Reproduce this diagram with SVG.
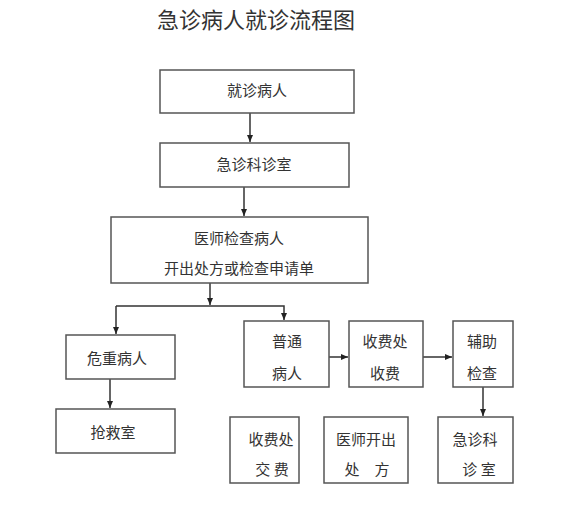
<svg xmlns="http://www.w3.org/2000/svg" width="573" height="514" viewBox="0 0 573 514">
<style>
.box{fill:#fff;stroke:#555;stroke-width:1.5}
.t{font-family:"Noto Sans CJK SC","Noto Sans",sans-serif;font-size:15px;fill:#333;text-anchor:middle;dominant-baseline:central}
.title{font-family:"Noto Sans CJK SC","Noto Sans",sans-serif;font-size:22px;fill:#333;text-anchor:middle;dominant-baseline:central}
.ln{fill:none;stroke:#333;stroke-width:1.5}
</style>
<defs>
<marker id="ah" markerWidth="8" markerHeight="8" refX="7" refY="4" orient="auto" markerUnits="userSpaceOnUse">
<path d="M0,1 L7,4 L0,7 Z" fill="#222"/>
</marker>
</defs>
<rect width="573" height="514" fill="#fff"/>
<text class="title" x="256" y="18">急诊病人就诊流程图</text>
<g id="connectors">
<line class="ln" x1="250" y1="113" x2="250" y2="142" marker-end="url(#ah)"/>
<line class="ln" x1="244" y1="187" x2="244" y2="216" marker-end="url(#ah)"/>
<line class="ln" x1="210" y1="283" x2="210" y2="305" marker-end="url(#ah)"/>
<polyline class="ln" points="116,306 284,306 284,320" marker-end="url(#ah)"/>
<line class="ln" x1="116" y1="306" x2="116" y2="334" marker-end="url(#ah)"/>
<line class="ln" x1="110" y1="379" x2="110" y2="408" marker-end="url(#ah)"/>
<line class="ln" x1="329" y1="357" x2="348" y2="357" marker-end="url(#ah)"/>
<line class="ln" x1="423" y1="357" x2="452" y2="357" marker-end="url(#ah)"/>
<line class="ln" x1="483" y1="387" x2="483" y2="416" marker-end="url(#ah)"/>
</g>
<g id="n1"><rect class="box" x="160" y="70" width="194" height="43"/><text class="t" x="257" y="89">就诊病人</text></g>
<g id="n2"><rect class="box" x="160" y="143" width="189" height="44"/><text class="t" x="254" y="163">急诊科诊室</text></g>
<g id="n3"><rect class="box" x="111" y="217" width="257" height="66"/><text class="t" x="239" y="237">医师检查病人</text><text class="t" x="239" y="267">开出处方或检查申请单</text></g>
<g id="n4"><rect class="box" x="66" y="335" width="109" height="44"/><text class="t" x="117" y="357">危重病人</text></g>
<g id="n5"><rect class="box" x="56" y="409" width="119" height="44"/><text class="t" x="113" y="431">抢救室</text></g>
<g id="n6"><rect class="box" x="244" y="321" width="85" height="66"/><text class="t" x="287" y="340">普通</text><text class="t" x="287" y="372">病人</text></g>
<g id="n7"><rect class="box" x="349" y="321" width="74" height="66"/><text class="t" x="385" y="340">收费处</text><text class="t" x="385" y="372">收费</text></g>
<g id="n8"><rect class="box" x="453" y="321" width="60" height="66"/><text class="t" x="482" y="340">辅助</text><text class="t" x="482" y="372">检查</text></g>
<g id="n9"><rect class="box" x="230" y="417" width="69" height="66"/><text class="t" x="271" y="438">收费处</text><text class="t" x="272" y="468" xml:space="preserve">交 费</text></g>
<g id="n10"><rect class="box" x="324" y="417" width="84" height="66"/><text class="t" x="366" y="438">医师开出</text><text class="t" x="367" y="468">处　方</text></g>
<g id="n11"><rect class="box" x="438" y="417" width="75" height="66"/><text class="t" x="475" y="438">急诊科</text><text class="t" x="479" y="468" xml:space="preserve">诊 室</text></g>
</svg>
